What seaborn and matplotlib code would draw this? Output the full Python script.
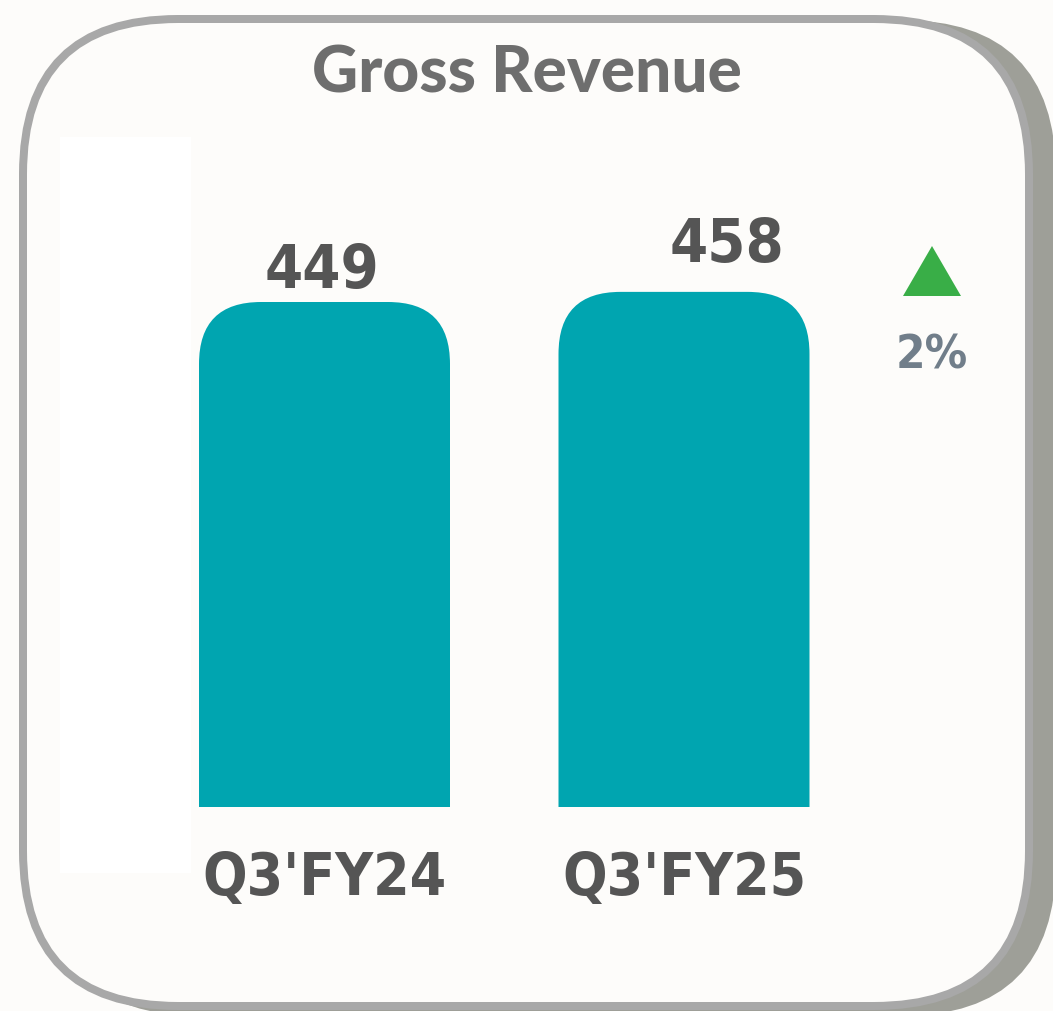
import matplotlib
matplotlib.use("Agg")
import matplotlib.pyplot as plt
import seaborn as sns
from matplotlib.patches import FancyBboxPatch, Polygon, Rectangle
from matplotlib.transforms import Affine2D

# data
quarters = ["Q3'FY24", "Q3'FY25"]
revenue = [449, 458]
growth_label = "2%"

W, H = 1053, 1011
DPI = 100
BAR_COLOR = "#00A5B0"
TEXT_DARK = "#555555"
NARROW = dict(family="DejaVu Sans", fontstretch="condensed", fontweight="bold")

sns.set_theme(style="white")
fig = plt.figure(figsize=(W / DPI, H / DPI), dpi=DPI)
fig.patch.set_facecolor("#FDFCFA")

# pixel transform with origin at top-left
px = Affine2D().scale(1.0 / W, -1.0 / H).translate(0, 1) + fig.transFigure


def card(x0, y0, x1, y1, **kw):
    # rounded box in pixels, using inches so corners stay circular
    tr = Affine2D().scale(1.0 / DPI) + fig.dpi_scale_trans
    r = 155
    return FancyBboxPatch((x0, H - y1), x1 - x0, y1 - y0,
                          boxstyle=f"round,pad=0,rounding_size={r}",
                          transform=tr, **kw)


fig.patches.append(card(45, 20, 1056, 1016, facecolor="#9E9F98", edgecolor="none"))
fig.patches.append(card(23, 19, 1029, 1006, facecolor="#FDFCFA",
                        edgecolor="#A8A8A8", linewidth=8 * 72 / DPI))
fig.patches.append(Rectangle((60, 873), 131, -736, transform=px,
                             facecolor="white", edgecolor="none"))

fig.text(527 / W, 1 - 74 / H, "Gross Revenue", ha="center", va="center",
         fontsize=46, fontweight="black", color="#6E6E6E", family=["Lato", "DejaVu Sans"])

# axes: bars centred at 324.5 px and 684 px, baseline at 807 px
unit_x = 359.5
ax_l, ax_r, ax_t, ax_b = 60, 1000, 137, 807
ax = fig.add_axes([ax_l / W, 1 - ax_b / H, (ax_r - ax_l) / W, (ax_b - ax_t) / H])
ax.set_zorder(5)
ax.set_facecolor("none")
sns.barplot(x=quarters, y=revenue, ax=ax, color=BAR_COLOR, width=251 / unit_x,
            saturation=1)
ax.set_xlim(-(324.5 - ax_l) / unit_x, 1 + (ax_r - 684) / unit_x)
px_per_val = 505 / 449
ax.set_ylim(0, (ax_b - ax_t) / px_per_val)

aspect = unit_x / px_per_val
radius = 62 / unit_x
for p in list(ax.patches):
    x, w, h = p.get_x(), p.get_width(), p.get_height()
    p.set_visible(False)
    rb = FancyBboxPatch((x, -200), w, h + 200,
                        boxstyle=f"round,pad=0,rounding_size={radius}",
                        mutation_aspect=aspect, facecolor=BAR_COLOR,
                        edgecolor="none", clip_on=True)
    ax.add_patch(rb)

# value labels (offsets in pixels)
label_dx = [-3, 43]
label_dy = [14, 30]
for i, v in enumerate(revenue):
    ax.annotate(str(v), (i, v), xytext=(label_dx[i] * 72 / DPI, label_dy[i] * 72 / DPI),
                textcoords="offset points", ha="center", va="baseline",
                fontsize=44, color=TEXT_DARK, annotation_clip=False, **NARROW)

ax.set_xticks(range(len(quarters)))
ax.set_xticklabels(quarters, fontsize=42, color=TEXT_DARK, **NARROW)
ax.tick_params(axis="x", length=0, pad=31)
ax.set_yticks([])
ax.set_xlabel("")
ax.set_ylabel("")
sns.despine(ax=ax, left=True, bottom=True)

# growth marker
fig.patches.append(Polygon([(903, 296), (961, 296), (932, 246)], closed=True,
                           transform=px, facecolor="#39AE47", edgecolor="none"))
fig.text(932 / W, 1 - 368 / H, growth_label, ha="center", va="baseline",
         fontsize=34, color="#717E8A", **NARROW)

fig.savefig("out.png", dpi=DPI)
